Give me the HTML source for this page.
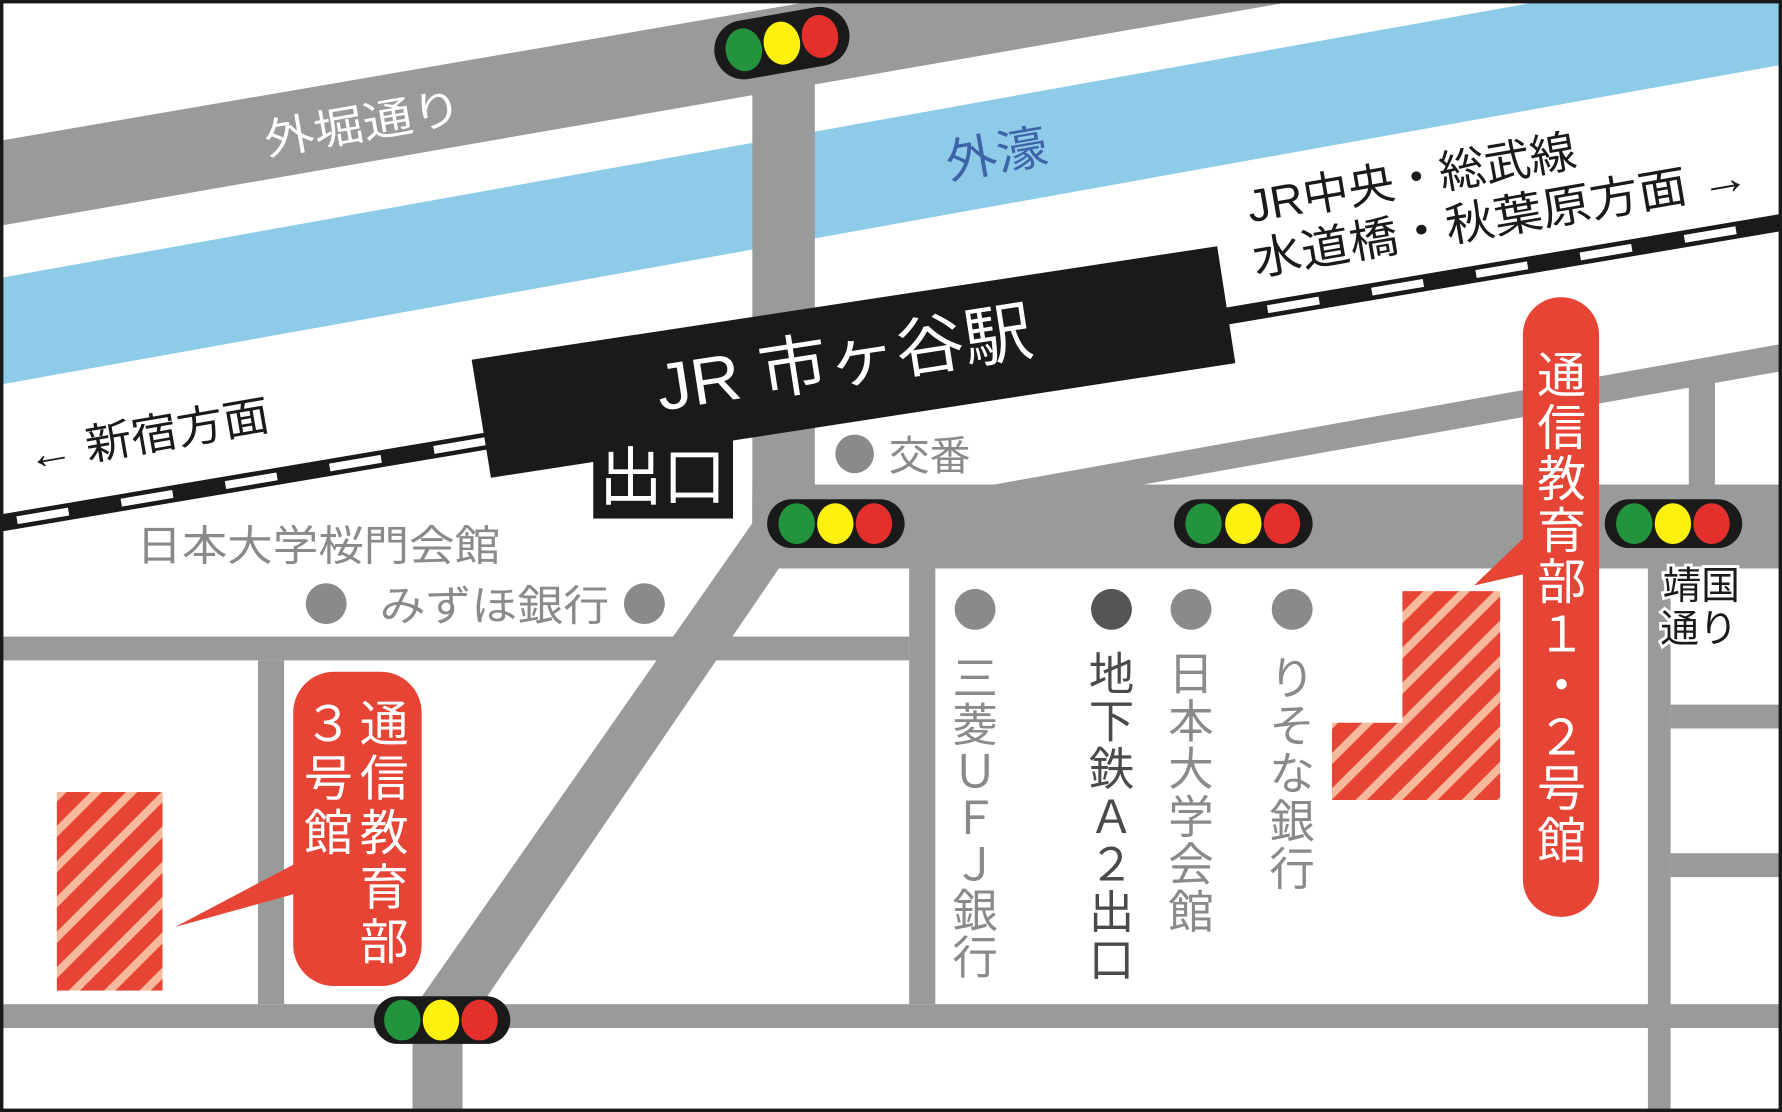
<!DOCTYPE html>
<html><head><meta charset="utf-8"><style>
html,body{margin:0;padding:0;background:#fff;}
svg{display:block;}
text{font-family:"Liberation Sans","Noto Sans CJK JP",sans-serif;}
</style></head><body>
<svg width="1782" height="1112" viewBox="0 0 1568 980" preserveAspectRatio="none" xmlns="http://www.w3.org/2000/svg">
<defs>
<pattern id="h" patternUnits="userSpaceOnUse" width="22" height="22" patternTransform="rotate(45)">
<rect width="22" height="22" fill="#e64536"/><rect x="0" y="0" width="7" height="22" fill="#f7b99c"/>
</pattern>
</defs>
<rect width="1568" height="980" fill="#fff"/>
<!-- top road -->
<polygon points="0,124 721,0 1145,0 0,199" fill="#999a9a"/>
<!-- river -->
<polygon points="0,245 1362,0 1568,0 1568,57 0,339" fill="#8dcbe8"/>
<!-- vertical road -->
<rect x="662" y="40" width="55" height="430" fill="#999a9a"/>
<!-- horizontal main road -->
<rect x="662" y="427" width="906" height="74" fill="#999a9a"/>
<!-- yasukuni diagonal -->
<polygon points="875,427 1568,303 1568,327 1006,427" fill="#999a9a"/>
<rect x="1486" y="330" width="23" height="100" fill="#999a9a"/>
<!-- diagonal road -->
<polygon points="662,440 717,440 717,475 686,500 424,885 407,906 407,980 363,980 363,906 370,880 662,461" fill="#999a9a"/>
<!-- horizontal roads -->
<rect x="0" y="561" width="800" height="21" fill="#999a9a"/>
<rect x="0" y="885" width="1568" height="21" fill="#999a9a"/>
<rect x="227" y="582" width="23" height="303" fill="#999a9a"/>
<rect x="800" y="501" width="23" height="384" fill="#999a9a"/>
<rect x="1450" y="501" width="20" height="479" fill="#999a9a"/>
<rect x="1470" y="621" width="98" height="21" fill="#999a9a"/>
<rect x="1470" y="752" width="98" height="21" fill="#999a9a"/>
<!-- railway -->
<line x1="0" y1="461" x2="1568" y2="196" stroke="#1a1a1a" stroke-width="15"/>
<line x1="15" y1="458.5" x2="1568" y2="196" stroke="#fff" stroke-width="7" stroke-dasharray="46 47"/>
<!-- station -->
<polygon points="415,317 1071,217 1087,320 432,421" fill="#1a1a1a"/>
<rect x="522" y="388" width="123" height="69" fill="#1a1a1a"/>
<text x="583" y="440" font-size="56" fill="#fff" text-anchor="middle">出口</text>
<text x="581" y="362" font-size="58" fill="#fff" textLength="334" lengthAdjust="spacingAndGlyphs" transform="rotate(-8.8 581 362)">JR 市ヶ谷駅</text>
<!-- top labels -->
<text x="235" y="137" font-size="38" fill="#fff" textLength="176" lengthAdjust="spacingAndGlyphs" transform="rotate(-9.8 235 137)">外堀通り</text>
<text x="835" y="158" font-size="42" fill="#3f63a8" textLength="90" lengthAdjust="spacingAndGlyphs" transform="rotate(-9.8 835 158)">外濠</text>
<text x="1100" y="196" font-size="40" fill="#1a1a1a" textLength="293" lengthAdjust="spacingAndGlyphs" transform="rotate(-9.8 1100 196)">JR中央・総武線</text>
<text x="1105" y="243" font-size="40" fill="#1a1a1a" textLength="442" lengthAdjust="spacingAndGlyphs" transform="rotate(-9.8 1105 243)">水道橋・秋葉原方面 →</text>
<text x="26" y="415" font-size="38" fill="#1a1a1a" textLength="216" lengthAdjust="spacingAndGlyphs" transform="rotate(-9.8 26 415)">← 新宿方面</text>
<!-- gray labels -->
<circle cx="752" cy="400" r="17" fill="#8a8a8a"/>
<text x="782" y="414" font-size="36" fill="#8a8a8a">交番</text>
<text x="120" y="494" font-size="37" fill="#8a8a8a" textLength="320" lengthAdjust="spacingAndGlyphs">日本大学桜門会館</text>
<circle cx="287" cy="532" r="18" fill="#8a8a8a"/>
<circle cx="567" cy="532" r="18" fill="#8a8a8a"/>
<text x="334" y="547" font-size="37" fill="#8a8a8a" textLength="202" lengthAdjust="spacingAndGlyphs">みずほ銀行</text>
<circle cx="858" cy="537" r="18" fill="#8a8a8a"/>
<circle cx="978" cy="537" r="18" fill="#555"/>
<circle cx="1048" cy="537" r="18" fill="#8a8a8a"/>
<circle cx="1137" cy="537" r="18" fill="#8a8a8a"/>
<g font-size="40" fill="#8a8a8a" text-anchor="middle">
<text x="858" y="612">三</text><text x="858" y="653">菱</text><text x="858" y="694">Ｕ</text><text x="858" y="735">Ｆ</text><text x="858" y="776">Ｊ</text><text x="858" y="817">銀</text><text x="858" y="858">行</text>
<text x="1048" y="608">日</text><text x="1048" y="650">本</text><text x="1048" y="692">大</text><text x="1048" y="734">学</text><text x="1048" y="776">会</text><text x="1048" y="818">館</text>
<text x="1137" y="612">り</text><text x="1137" y="654">そ</text><text x="1137" y="696">な</text><text x="1137" y="738">銀</text><text x="1137" y="780">行</text>
</g>
<g font-size="40" fill="#4a4a4a" text-anchor="middle">
<text x="978" y="608">地</text><text x="978" y="650">下</text><text x="978" y="692">鉄</text><text x="978" y="734">Ａ</text><text x="978" y="776">２</text><text x="978" y="818">出</text><text x="978" y="860">口</text>
</g>
<!-- buildings -->
<polygon points="1234,521 1320,521 1320,705 1172,705 1172,637 1234,637" fill="url(#h)"/>
<rect x="50" y="698" width="93" height="175" fill="url(#h)"/>
<!-- callout 1 -->
<polygon points="1345,470 1345,505 1297,516" fill="#e64536"/>
<rect x="1340" y="262" width="67" height="546" rx="33" fill="#e64536"/>
<g font-size="43" fill="#fff" text-anchor="middle">
<text x="1374" y="346">通</text><text x="1374" y="392">信</text><text x="1374" y="437">教</text><text x="1374" y="483">育</text><text x="1374" y="528">部</text><text x="1374" y="574">１</text><text x="1374" y="619">・</text><text x="1374" y="665">２</text><text x="1374" y="710">号</text><text x="1374" y="756">館</text>
</g>
<!-- callout 2 -->
<polygon points="262,760 262,787 154,817" fill="#e64536"/>
<rect x="258" y="592" width="113" height="277" rx="36" fill="#e64536"/>
<g font-size="43" fill="#fff" text-anchor="middle">
<text x="338" y="653">通</text><text x="338" y="701">信</text><text x="338" y="749">教</text><text x="338" y="797">育</text><text x="338" y="845">部</text>
<text x="289" y="653">３</text><text x="289" y="701">号</text><text x="289" y="749">館</text>
</g>
<!-- yasukuni label -->
<g font-size="34" fill="#1a1a1a" stroke="#fff" stroke-width="5" paint-order="stroke" text-anchor="middle">
<text x="1497" y="528">靖国</text><text x="1495" y="566">通り</text>
</g>
<!-- traffic lights -->
<g transform="rotate(-10 688 38)">
<rect x="628" y="12" width="120" height="52" rx="26" fill="#1a1a1a"/>
<ellipse cx="654" cy="38" rx="16" ry="19" fill="#23933e"/><ellipse cx="688" cy="38" rx="16" ry="19" fill="#fff10f"/><ellipse cx="722" cy="38" rx="16" ry="19" fill="#e3302d"/>
</g>
<g>
<rect x="675" y="440" width="121" height="43" rx="21.5" fill="#1a1a1a"/>
<ellipse cx="701" cy="461.5" rx="16" ry="18" fill="#23933e"/><ellipse cx="735" cy="461.5" rx="16" ry="18" fill="#fff10f"/><ellipse cx="769" cy="461.5" rx="16" ry="18" fill="#e3302d"/>
<rect x="1033" y="440" width="122" height="43" rx="21.5" fill="#1a1a1a"/>
<ellipse cx="1059" cy="461.5" rx="16" ry="18" fill="#23933e"/><ellipse cx="1094" cy="461.5" rx="16" ry="18" fill="#fff10f"/><ellipse cx="1128" cy="461.5" rx="16" ry="18" fill="#e3302d"/>
<rect x="1412" y="440" width="121" height="43" rx="21.5" fill="#1a1a1a"/>
<ellipse cx="1438" cy="461.5" rx="16" ry="18" fill="#23933e"/><ellipse cx="1472" cy="461.5" rx="16" ry="18" fill="#fff10f"/><ellipse cx="1506" cy="461.5" rx="16" ry="18" fill="#e3302d"/>
<rect x="329" y="878" width="120" height="42" rx="21" fill="#1a1a1a"/>
<ellipse cx="354" cy="899" rx="16" ry="18" fill="#23933e"/><ellipse cx="388" cy="899" rx="16" ry="18" fill="#fff10f"/><ellipse cx="422" cy="899" rx="16" ry="18" fill="#e3302d"/>
</g>
<rect x="1.5" y="1.5" width="1565" height="977" fill="none" stroke="#1a1a1a" stroke-width="3"/>
</svg>
</body></html>
